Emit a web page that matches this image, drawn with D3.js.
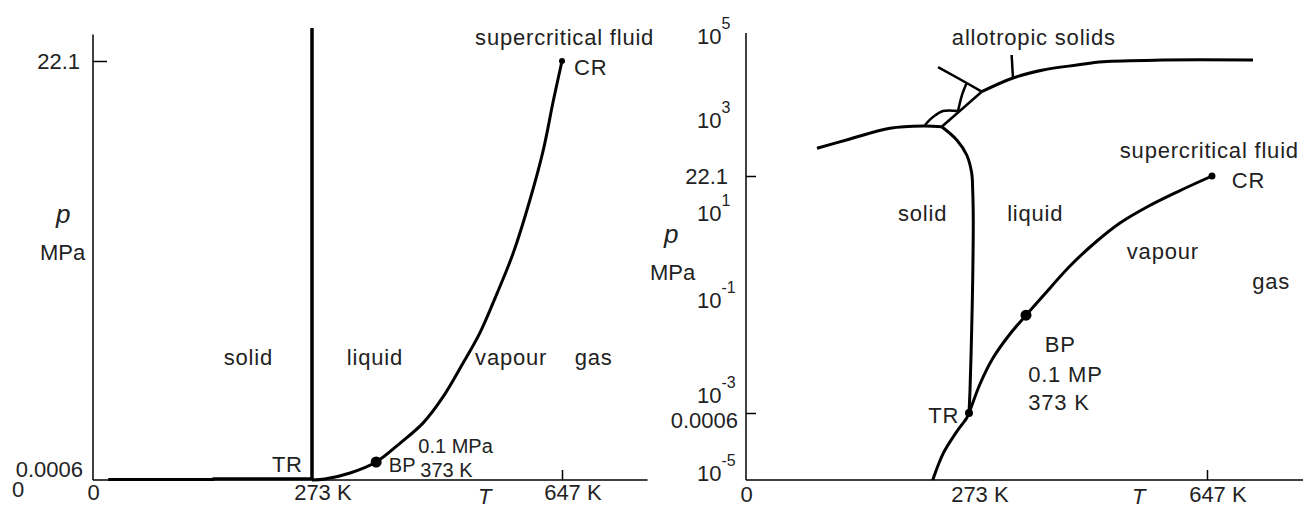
<!DOCTYPE html>
<html>
<head>
<meta charset="utf-8">
<script src="https://cdn.jsdelivr.net/npm/d3@7"></script>
<style>
  body { margin: 0; background: #fff; }
  svg text { font-family: "Liberation Sans", Arial, sans-serif; fill: #222; }
</style>
</head>
<body>
<div id="chart"></div>
<script>
// ---------- data ----------
// T in K. Left panel: p in MPa (linear). Right panel: lg = log10(p / MPa), schematic axis.
const tempTicks = [0, 273, 647];

const leftFusion = [[273, 0.0006], [273, 23.84]];
const leftSublimation = [[19, 0.03], [150, 0.03], [150, 0.07], [273, 0.07]];
const leftVaporization = [
  [273, 0.0006], [292, 0.05], [330, 0.37], [369, 0.95], [405, 1.95], [439, 3.0],
  [469, 4.38], [499, 6.17], [524, 7.75], [550, 9.86], [574, 11.97], [599, 14.77],
  [619, 17.4], [634, 20.0], [647, 22.1]
];
const leftPoints = [
  { name: "BP", T: 369, p: 0.95, r: 5.5 },
  { name: "CR", T: 647, p: 22.1, r: 3 }
];
const leftPTicks = ["22.1", "0.0006", "0"];

const rightVaporization = [
  [228.6, -5.2], [241.6, -4.41], [258, -3.775], [270.2, -3.368], [273, -3.222],
  [290.3, -2.768], [310.7, -2.221], [337.4, -1.716], [362.6, -1.32], [389.3, -0.908],
  [431.7, -0.218], [474.1, 0.356], [510.3, 0.77], [552.7, 1.056], [599.8, 1.195],
  [654.8, 1.344]
];
const rightFusion = [
  [273, -3.222], [274.6, -2.895], [277.2, -1.63], [278.8, -0.54], [279.7, 0.84],
  [278.8, 1.214], [277.2, 1.433], [270.2, 1.965], [258, 2.41], [239.6, 2.80]
];
const rightIceBoundary = [[86.9, 2.163], [127.3, 2.438], [176.3, 2.754], [217.1, 2.82], [239.6, 2.80]];
const allotropeLines = [
  [[219.1, 2.852], [228.9, 3.071], [241.2, 3.214], [259.6, 3.214]],
  [[239.6, 2.80], [293, 3.674]],
  [[259.6, 3.214], [264.4, 3.595], [270.2, 3.881]],
  [[270.2, 3.881], [235.1, 4.261]],
  [[270.2, 3.881], [293, 3.674]],
  [[342.1, 4.0], [340, 4.547]]
];
const rightUpperBoundary = [
  [293, 3.674], [342.1, 4.0], [389.3, 4.19], [442.7, 4.309], [483.6, 4.388],
  [577.9, 4.428], [719.3, 4.428]
];
const rightPoints = [
  { name: "TR", T: 273, lg: -3.222, r: 4 },
  { name: "BP", T: 362.6, lg: -1.32, r: 5.5 },
  { name: "CR", T: 654.8, lg: 1.344, r: 3.5 }
];
const decades = [-5, -3, -1, 1, 3, 5];
const rightSpecialTicks = [{ lg: 1.344, label: "22.1" }, { lg: -3.222, label: "0.0006" }];

const leftLabels = [
  { text: "supercritical fluid", T: 517, p: 22.94 },
  { text: "CR", T: 665, p: 21.36 },
  { text: "solid", T: 163, p: 6.07 },
  { text: "liquid", T: 325, p: 6.07 },
  { text: "vapour", T: 517, p: 6.07 },
  { text: "gas", T: 666, p: 6.07 },
  { text: "TR", T: 223, p: 0.42 }
];
const leftSmallLabels = [
  { text: "BP", T: 388, p: 0.42 },
  { text: "0.1 MPa", T: 432, p: 1.42 },
  { text: "373 K", T: 435, p: 0.16 }
];
const rightLabels = [
  { text: "allotropic solids", T: 252, lg: 4.786 },
  { text: "supercritical fluid", T: 510, lg: 1.876 },
  { text: "CR", T: 686, lg: 1.2325 },
  { text: "solid", T: 186, lg: 0.816 },
  { text: "liquid", T: 333, lg: 0.816 },
  { text: "vapour", T: 521, lg: -0.048 },
  { text: "gas", T: 718, lg: -0.747 },
  { text: "BP", T: 392, lg: -2.095 },
  { text: "0.1 MP", T: 366, lg: -2.726 },
  { text: "373 K", T: 366, lg: -3.183 },
  { text: "TR", T: 223, lg: -3.517 }
];

// ---------- layout ----------
const width = 1305, height = 508;
const svg = d3.select("#chart").append("svg")
  .attr("width", width)
  .attr("height", height);

// schematic (non-uniform) axes, piecewise linear like the drawing
const xL = d3.scaleLinear().domain(tempTicks).range([93, 312, 562]);
const yL = d3.scaleLinear().domain([0, 22.1]).range([480, 61]);
const xR = d3.scaleLinear().domain(tempTicks).range([746, 969, 1207]);
const yR = d3.scaleLinear()
  .domain([-5.2, -5, -3.222, -3, -1, 1, 1.344, 3, 5])
  .range([480, 473, 413, 395, 300, 213, 176, 120, 36]);

const leftTmax = 775, leftPmax = 23.5;
const rightTmax = 798, rightLgMin = -5.2, rightLgMax = 5.07;

function drawLine(pts, x, y, w, curve = d3.curveCatmullRom.alpha(0.5)) {
  svg.append("path")
    .datum(pts)
    .attr("fill", "none")
    .attr("stroke", "#000")
    .attr("stroke-width", w)
    .attr("stroke-linejoin", "round")
    .attr("d", d3.line().x(d => x(d[0])).y(d => y(d[1])).curve(curve));
}

function kelvinLabels(g) {
  g.selectAll(".tick text").each(function (d) {
    const t = d3.select(this);
    const w = this.getComputedTextLength();
    t.attr("text-anchor", "start").attr("x", -w / 2);
    if (d !== 0) t.append("tspan").text(" K");
  });
}

// ---------- left panel ----------
svg.append("line").attr("x1", xL(0)).attr("x2", xL(0))
  .attr("y1", yL(0)).attr("y2", yL(leftPmax))
  .attr("stroke", "#000").attr("stroke-width", 1.5);
svg.append("line").attr("x1", xL(0)).attr("x2", xL(leftTmax))
  .attr("y1", yL(0)).attr("y2", yL(0))
  .attr("stroke", "#000").attr("stroke-width", 1.5);

const gxL = svg.append("g").attr("transform", `translate(0,${yL(0)})`)
  .call(d3.axisBottom(xL).tickValues(tempTicks).tickSize(-10).tickFormat(d3.format("d")));
gxL.select(".domain").remove();
gxL.selectAll(".tick line").attr("stroke", "#000").attr("stroke-width", 1.5)
  .attr("display", d => d === 647 ? null : "none");
gxL.selectAll(".tick text").attr("y", 20).attr("dy", 0)
  .style("font-size", "22px").attr("fill", "#222");
gxL.call(kelvinLabels);

const leftTickVals = [22.1, 0.0006, 0];
const gyL = svg.append("g").attr("transform", `translate(${xL(0)},0)`)
  .call(d3.axisLeft(yL).tickValues(leftTickVals).tickSize(-14)
    .tickFormat((d, i) => leftPTicks[i]));
gyL.select(".domain").remove();
gyL.selectAll(".tick line").attr("stroke", "#000").attr("stroke-width", 1.5)
  .attr("display", d => d === 22.1 ? null : "none");
gyL.selectAll(".tick text").style("font-size", "22px").attr("fill", "#222")
  .each(function (d) {
    const t = d3.select(this);
    if (d === 22.1) t.attr("x", -13).attr("dy", "0.36em");
    else if (d === 0.0006) t.attr("x", -10).attr("dy", "-0.14em");
    else t.attr("text-anchor", "start").attr("x", 12 - 93).attr("dy", "0.75em");
  });

drawLine(leftSublimation, xL, yL, 3, d3.curveLinear);
drawLine(leftVaporization, xL, yL, 3);
drawLine(leftFusion, xL, yL, 3.5);

svg.selectAll(".ptL").data(leftPoints).enter().append("circle")
  .attr("cx", d => xL(d.T)).attr("cy", d => yL(d.p)).attr("r", d => d.r).attr("fill", "#000");

svg.selectAll(".lblL").data(leftLabels).enter().append("text")
  .attr("x", d => xL(d.T)).attr("y", d => yL(d.p))
  .style("font-size", "22px").style("letter-spacing", "0.8px")
  .text(d => d.text);
svg.selectAll(".slblL").data(leftSmallLabels).enter().append("text")
  .attr("x", d => xL(d.T)).attr("y", d => yL(d.p))
  .style("font-size", "20px")
  .text(d => d.text);

// axis titles
svg.append("text").attr("x", 56).attr("y", 223).style("font-size", "26px")
  .style("font-style", "italic").text("p");
svg.append("text").attr("x", 40).attr("y", 260).style("font-size", "22px").text("MPa");
svg.append("text").attr("x", 478).attr("y", 504).style("font-size", "22px")
  .style("font-style", "italic").text("T");

// ---------- right panel ----------
svg.append("line").attr("x1", xR(0)).attr("x2", xR(0))
  .attr("y1", yR(rightLgMin)).attr("y2", yR(rightLgMax))
  .attr("stroke", "#000").attr("stroke-width", 1.5);
svg.append("line").attr("x1", xR(0)).attr("x2", xR(rightTmax))
  .attr("y1", yR(rightLgMin)).attr("y2", yR(rightLgMin))
  .attr("stroke", "#000").attr("stroke-width", 1.5);

const gxR = svg.append("g").attr("transform", `translate(0,${yR(rightLgMin)})`)
  .call(d3.axisBottom(xR).tickValues(tempTicks).tickSize(-10).tickFormat(d3.format("d")));
gxR.select(".domain").remove();
gxR.selectAll(".tick line").attr("stroke", "#000").attr("stroke-width", 1.5)
  .attr("display", d => d === 647 ? null : "none");
gxR.selectAll(".tick text").attr("y", 22).attr("dy", 0)
  .style("font-size", "22px").attr("fill", "#222");
gxR.call(kelvinLabels);

const gyR = svg.append("g").attr("transform", `translate(${xR(0)},0)`)
  .call(d3.axisLeft(yR).tickValues(rightSpecialTicks.map(d => d.lg)).tickSize(-10)
    .tickFormat((d, i) => rightSpecialTicks[i].label));
gyR.select(".domain").remove();
gyR.selectAll(".tick line").attr("stroke", "#000").attr("stroke-width", 1.5);
gyR.selectAll(".tick text").style("font-size", "22px").attr("fill", "#222")
  .each(function (d) {
    const t = d3.select(this);
    if (d > 0) t.attr("x", -18).attr("dy", "0.36em");
    else t.attr("x", -8).attr("dy", "0.68em");
  });

const gdR = svg.append("g").attr("transform", `translate(${xR(0)},0)`)
  .call(d3.axisLeft(yR).tickValues(decades).tickSize(0).tickFormat(() => ""));
gdR.select(".domain").remove();
gdR.selectAll(".tick text").each(function (d) {
  const t = d3.select(this)
    .attr("text-anchor", "start").attr("x", -49).attr("dy", "0.36em")
    .style("font-size", "22px").attr("fill", "#222");
  t.append("tspan").text("10");
  t.append("tspan").attr("dy", -15).style("font-size", "16px").text(d);
});

drawLine(rightIceBoundary, xR, yR, 3);
drawLine(rightFusion, xR, yR, 3);
drawLine(rightVaporization, xR, yR, 3);
allotropeLines.forEach(l => drawLine(l, xR, yR, 2.5));
drawLine(rightUpperBoundary, xR, yR, 3);

svg.selectAll(".ptR").data(rightPoints).enter().append("circle")
  .attr("cx", d => xR(d.T)).attr("cy", d => yR(d.lg)).attr("r", d => d.r).attr("fill", "#000");

svg.selectAll(".lblR").data(rightLabels).enter().append("text")
  .attr("x", d => xR(d.T)).attr("y", d => yR(d.lg))
  .style("font-size", "22px").style("letter-spacing", "0.8px")
  .text(d => d.text);

svg.append("text").attr("x", 664).attr("y", 243).style("font-size", "26px")
  .style("font-style", "italic").text("p");
svg.append("text").attr("x", 650).attr("y", 280).style("font-size", "22px").text("MPa");
svg.append("text").attr("x", 1132).attr("y", 504).style("font-size", "22px")
  .style("font-style", "italic").text("T");
</script>
</body>
</html>
